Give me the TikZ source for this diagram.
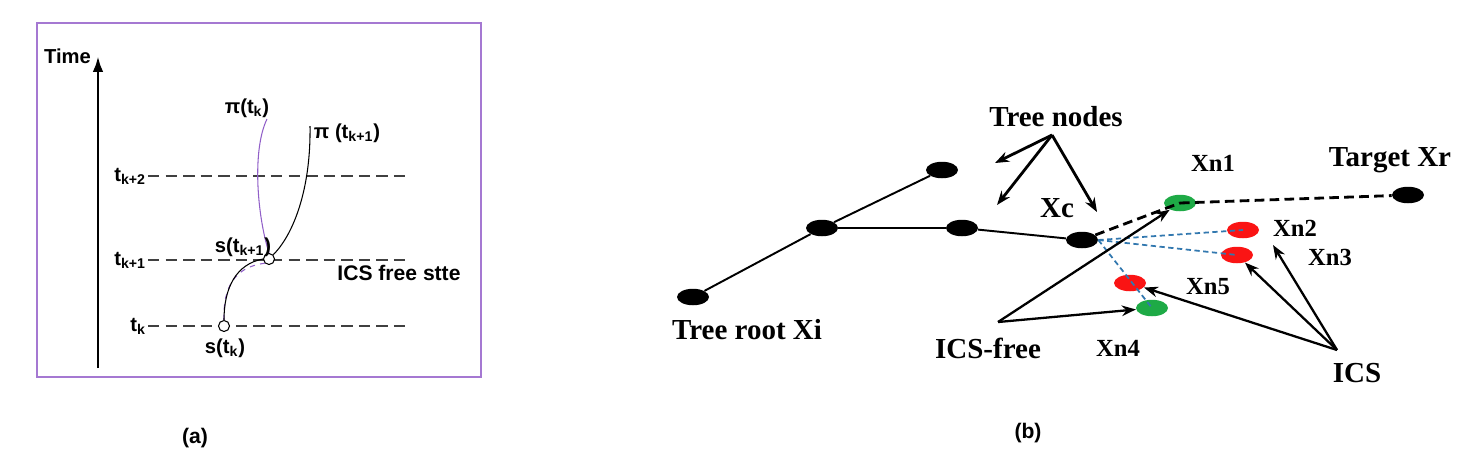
\documentclass[tikz,border=0pt]{standalone}
\usepackage{fontspec}
\setmainfont{Liberation Serif}
\newfontfamily\arialfont{Liberation Sans}
\usetikzlibrary{arrows.meta,shapes.geometric}

\definecolor{boxpurple}{RGB}{165,120,210}
\definecolor{curvepurple}{RGB}{145,95,200}
\definecolor{icsgreen}{RGB}{30,170,70}
\definecolor{icsred}{RGB}{250,20,20}
\definecolor{linkblue}{RGB}{50,120,175}

\begin{document}
\begin{tikzpicture}[x=0.02cm,y=-0.02cm,
  every node/.style={inner sep=1pt},
  alabel/.style={font=\arialfont\bfseries\fontsize{11.5}{13}\selectfont},
  blabel/.style={font=\bfseries\fontsize{16.5}{18}\selectfont},
  nlabel/.style={font=\bfseries\fontsize{14}{16}\selectfont},
  level/.style={dash pattern=on 6.5pt off 3.5pt,line width=0.6pt,black!75},
  state/.style={circle,draw,fill=white,line width=0.6pt,inner sep=0pt,minimum size=0.22cm},
  tnode/.style={ellipse,fill=black,inner sep=0pt,minimum width=0.64cm,minimum height=0.33cm},
  gnode/.style={tnode,fill=icsgreen},
  rnode/.style={tnode,fill=icsred},
  pointer/.style={-{Stealth[length=8pt,width=6pt]},line width=1.3pt},
  bigpointer/.style={pointer,line width=1.6pt},
  link/.style={linkblue,line width=1pt,dash pattern=on 3pt off 2pt},
  plan/.style={line width=1.6pt,dash pattern=on 5.5pt off 3pt}
]
  \useasboundingbox (0,0) rectangle (1462,454);
  % Panel (a): frame and time axis
  \draw[boxpurple,line width=1.1pt] (37,23) rectangle (481,377);
  \coordinate (tbot) at (98,368);
  \coordinate (ttop) at (98,56);
  \draw[-{Latex[length=9pt,width=6pt]},line width=1.7pt] (tbot) -- (ttop);
  \node[alabel,anchor=east] (time) at (93,56) {Time};
  % time levels
  \foreach \name/\y/\txt in {tk/326/k, tka/260/k+1, tkb/176/k+2} {
    \node[alabel,anchor=east] (\name) at (148,\y) {t\textsubscript{\txt}};
    \coordinate (\name end) at (407,\y);
    \draw[level] (\name.east) -- (\name end);
  }
  % states and trajectories
  \node[state] (sk) at (224,326) {};
  \node[state] (ska) at (269,259) {};
  \coordinate (pik) at (267,119);
  \coordinate (pika) at (310,126);
  \draw[curvepurple,dashed,line width=0.6pt] (sk.north) .. controls (223,288) and (234,267) .. (ska.south west);
  \draw[line width=0.6pt] (sk.north) .. controls (224,288) and (236,264) .. (ska.west);
  \draw[line width=0.6pt] (ska.north east) .. controls (293,235) and (311,190) .. (pika);
  \draw[curvepurple,line width=0.6pt] (ska.north) .. controls (257,215) and (252,150) .. (pik);
  % labels of panel (a)
  \node[alabel] (sklab) at (225,348) {s(t\textsubscript{k})};
  \node[alabel] (skalab) at (243,247) {s(t\textsubscript{k+1})};
  \node[alabel] (piklab) at (247,108) {π(t\textsubscript{k})};
  \node[alabel] (pikalab) at (347,133) {π (t\textsubscript{k+1})};
  \node[alabel,font=\arialfont\fontsize{12}{14}\selectfont\bfseries] (free) at (399,273) {ICS free stte};
  \node[alabel,font=\arialfont\bfseries\fontsize{12}{14}\selectfont] (capa) at (195,438) {(a)};

  % Panel (b): tree and neighbour states
  \foreach \name/\x/\y in {root/693/297, fork/822/228, leaf/942/170, mid/962/228, xc/1082/240, target/1408/195}
    \node[tnode] (\name) at (\x,\y) {};
  \node[gnode] (n1) at (1180,203) {};
  \node[rnode] (n2) at (1243,230) {};
  \node[rnode] (n3) at (1237,255) {};
  \node[rnode] (n5) at (1130,283) {};
  \node[gnode] (n4) at (1152,308) {};
  % tree edges
  \draw[line width=1.1pt] (root) -- (fork) -- (leaf);
  \draw[line width=0.8pt] (fork) -- (mid);
  \draw[line width=1.1pt] (mid) -- (xc);
  % planned path
  \draw[plan] (xc) -- (n1.center);
  \draw[plan] (n1.center) -- (target);
  % links to neighbours
  \draw[link] (xc.east) -- (n2.center);
  \draw[link] (xc.east) -- (n3.center);
  \draw[link] (xc.east) -- (n4.center);
  % labels of panel (b)
  \node[blabel] (treelab) at (1056,117) {Tree nodes};
  \node[blabel] (rootlab) at (747,330) {Tree root Xi};
  \node[blabel] (xclab) at (1057,208) {Xc};
  \node[blabel] (targetlab) at (1390,160) {Target Xr};
  \node[blabel] (freelab) at (988,348) {ICS-free};
  \node[blabel] (icslab) at (1357,373) {ICS};
  \node[nlabel] (n1lab) at (1213,163) {Xn1};
  \node[nlabel] (n2lab) at (1295,228) {Xn2};
  \node[nlabel] (n3lab) at (1330,257) {Xn3};
  \node[nlabel] (n5lab) at (1208,287) {Xn5};
  \node[nlabel] (n4lab) at (1118,348) {Xn4};
  \node[alabel,font=\arialfont\bfseries\fontsize{12}{14}\selectfont] (capb) at (1028,433) {(b)};
  % pointers
  \coordinate (treeapex) at (1052,135);
  \coordinate (treea) at (995,163);
  \coordinate (treeb) at (997,205);
  \coordinate (treec) at (1097,212);
  \foreach \c in {treea,treeb,treec}
    \draw[bigpointer] (treeapex) -- (\c);
  \coordinate (freeapex) at (998,322);
  \draw[pointer] (freeapex) -- (n1);
  \draw[pointer] (freeapex) -- (n4);
  \coordinate (icsapex) at (1337,350);
  \coordinate (icsaim) at (1273,245);
  \draw[pointer] (icsapex) -- (n5);
  \draw[pointer] (icsapex) -- (n3);
  \draw[pointer] (icsapex) -- (icsaim);
\end{tikzpicture}
\end{document}
